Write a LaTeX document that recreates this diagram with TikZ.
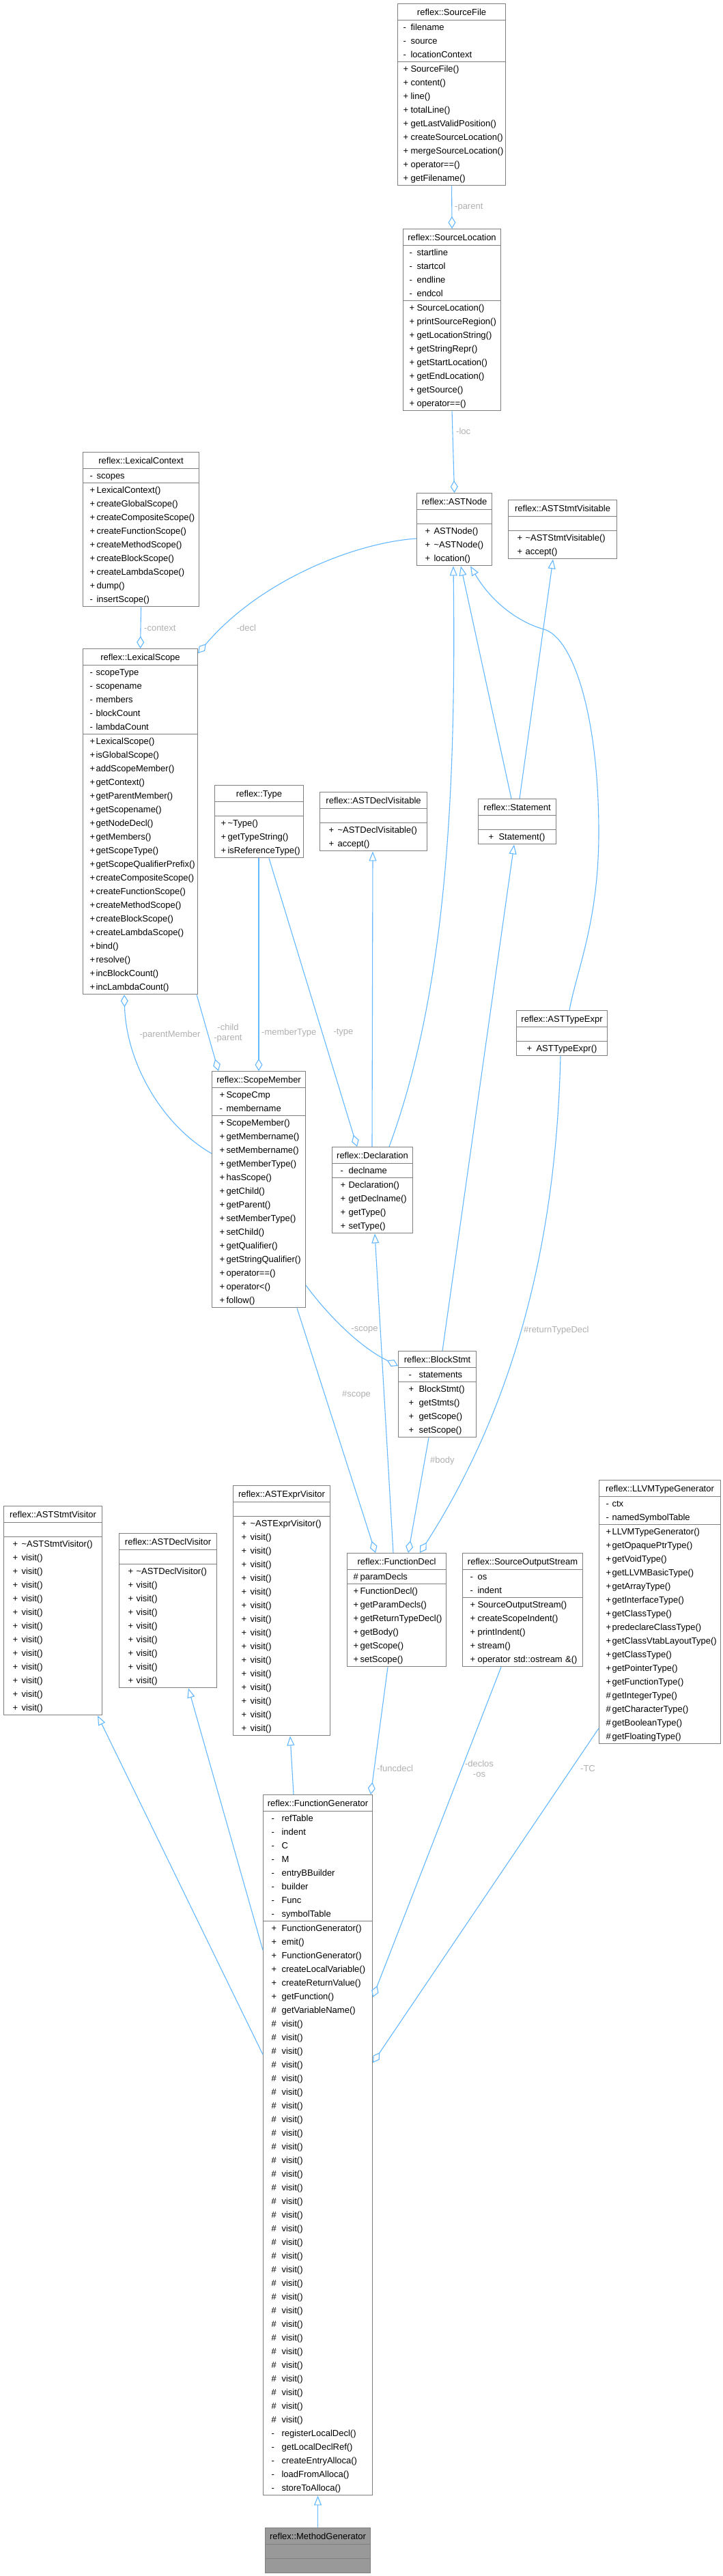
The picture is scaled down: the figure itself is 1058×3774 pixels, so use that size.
\documentclass[tikz,border=0pt]{standalone}
\usepackage{fontspec}
\setmainfont{Liberation Sans}
\usepackage{xcolor}
\usepackage{tikz}
\usetikzlibrary{shapes.multipart, arrows.meta, calc}

\definecolor{edgeblue}{HTML}{63B8FF}
\definecolor{boxgray}{HTML}{7F7F7F}
\definecolor{lblgray}{HTML}{B0B0B0}
\definecolor{leafgray}{HTML}{999999}

\newcommand{\clsfont}{\fontsize{13}{20}\selectfont}
\newcommand{\lblfont}{\fontsize{13}{15}\selectfont}
\newcommand{\ttl}[1]{\centering\rule[-7pt]{0pt}{23pt}#1\par}
\newcommand{\mbr}[2]{\hspace*{\clsa pt}\makebox[\dimexpr\clsb pt-\clsa pt\relax][l]{#1}#2\rule[-6pt]{0pt}{20pt}\par}
\newcommand{\nomb}{\rule[-6pt]{0pt}{20pt}\par}
\newcommand{\visits}[2]{\foreach \vi in {1,...,#2}{\mbr{#1}{visit()}}}

\tikzset{cols/.code 2 args={\def\clsa{#1}\def\clsb{#2}}}

\begin{document}
\begin{tikzpicture}[
    x=1pt, y=-1pt,
    classbox/.style={rectangle split, rectangle split parts=3, draw=boxgray, line width=1.1pt, fill=white, anchor=north west, inner xsep=0pt, inner ysep=0pt, font=\clsfont},
    leafbox/.style={classbox, fill=leafgray},
    link/.style={draw=edgeblue, line width=1.1pt},
    inherit/.style={link, {Triangle[open, length=14pt, width=11pt]}-},
    member/.style={link, -{Diamond[open, length=18pt, width=11pt]}},
    lbl/.style={font=\lblfont, text=lblgray, inner sep=0pt, align=center}
]
\path[use as bounding box, fill=white] (0,0) rectangle (1058,3774);

% Source files
\node[classbox, cols={8}{19}, text width=158pt] (srcfile) at (582,5) {\ttl{reflex::SourceFile}
  \nodepart{two}\mbr{-}{filename}\mbr{-}{source}\mbr{-}{locationContext}
  \nodepart{three}\mbr{+}{SourceFile()}\mbr{+}{content()}\mbr{+}{line()}\mbr{+}{totalLine()}\mbr{+}{getLastValidPosition()}\mbr{+}{createSourceLocation()}\mbr{+}{mergeSourceLocation()}\mbr{+}{operator==()}\mbr{+}{getFilename()}};
\node[classbox, cols={9}{20}, text width=143pt] (srcloc) at (590,335) {\ttl{reflex::SourceLocation}
  \nodepart{two}\mbr{-}{startline}\mbr{-}{startcol}\mbr{-}{endline}\mbr{-}{endcol}
  \nodepart{three}\mbr{+}{SourceLocation()}\mbr{+}{printSourceRegion()}\mbr{+}{getLocationString()}\mbr{+}{getStringRepr()}\mbr{+}{getStartLocation()}\mbr{+}{getEndLocation()}\mbr{+}{getSource()}\mbr{+}{operator==()}};

% AST bases
\node[classbox, cols={12}{25}, text width=110pt] (astnode) at (610,722) {\ttl{reflex::ASTNode}
  \nodepart{two}\nomb
  \nodepart{three}\mbr{+}{ASTNode()}\mbr{+}{\textasciitilde ASTNode()}\mbr{+}{location()}};
\node[classbox, cols={13}{25}, text width=159pt] (stmtvisitable) at (744,732) {\ttl{reflex::ASTStmtVisitable}
  \nodepart{two}\nomb
  \nodepart{three}\mbr{+}{\textasciitilde ASTStmtVisitable()}\mbr{+}{accept()}};

% Scopes
\node[classbox, cols={10}{20}, text width=170pt] (lexctx) at (121,662) {\ttl{reflex::LexicalContext}
  \nodepart{two}\mbr{-}{scopes}
  \nodepart{three}\mbr{+}{LexicalContext()}\mbr{+}{createGlobalScope()}\mbr{+}{createCompositeScope()}\mbr{+}{createFunctionScope()}\mbr{+}{createMethodScope()}\mbr{+}{createBlockScope()}\mbr{+}{createLambdaScope()}\mbr{+}{dump()}\mbr{-}{insertScope()}};
\node[classbox, cols={10}{19}, text width=168pt] (lexscope) at (121,950) {\ttl{reflex::LexicalScope}
  \nodepart{two}\mbr{-}{scopeType}\mbr{-}{scopename}\mbr{-}{members}\mbr{-}{blockCount}\mbr{-}{lambdaCount}
  \nodepart{three}\mbr{+}{LexicalScope()}\mbr{+}{isGlobalScope()}\mbr{+}{addScopeMember()}\mbr{+}{getContext()}\mbr{+}{getParentMember()}\mbr{+}{getScopename()}\mbr{+}{getNodeDecl()}\mbr{+}{getMembers()}\mbr{+}{getScopeType()}\mbr{+}{getScopeQualifierPrefix()}\mbr{+}{createCompositeScope()}\mbr{+}{createFunctionScope()}\mbr{+}{createMethodScope()}\mbr{+}{createBlockScope()}\mbr{+}{createLambdaScope()}\mbr{+}{bind()}\mbr{+}{resolve()}\mbr{+}{incBlockCount()}\mbr{+}{incLambdaCount()}};

% Types and declarations
\node[classbox, cols={9}{19}, text width=130pt] (type) at (314,1150) {\ttl{reflex::Type}
  \nodepart{two}\nomb
  \nodepart{three}\mbr{+}{\textasciitilde Type()}\mbr{+}{getTypeString()}\mbr{+}{isReferenceType()}};
\node[classbox, cols={13}{26}, text width=157pt] (declvisitable) at (468,1160) {\ttl{reflex::ASTDeclVisitable}
  \nodepart{two}\nomb
  \nodepart{three}\mbr{+}{\textasciitilde ASTDeclVisitable()}\mbr{+}{accept()}};
\node[classbox, cols={15}{30}, text width=114pt] (statement) at (700,1170) {\ttl{reflex::Statement}
  \nodepart{two}\nomb
  \nodepart{three}\mbr{+}{Statement()}};
\node[classbox, cols={15}{29}, text width=133pt] (typeexpr) at (756,1480) {\ttl{reflex::ASTTypeExpr}
  \nodepart{two}\nomb
  \nodepart{three}\mbr{+}{ASTTypeExpr()}};
\node[classbox, cols={11}{21}, text width=137pt] (scopemember) at (310,1569) {\ttl{reflex::ScopeMember}
  \nodepart{two}\mbr{+}{ScopeCmp}\mbr{-}{membername}
  \nodepart{three}\mbr{+}{ScopeMember()}\mbr{+}{getMembername()}\mbr{+}{setMembername()}\mbr{+}{getMemberType()}\mbr{+}{hasScope()}\mbr{+}{getChild()}\mbr{+}{getParent()}\mbr{+}{setMemberType()}\mbr{+}{setChild()}\mbr{+}{getQualifier()}\mbr{+}{getStringQualifier()}\mbr{+}{operator==()}\mbr{+}{operator<()}\mbr{+}{follow()}};
\node[classbox, cols={12}{24}, text width=118pt] (declaration) at (486,1680) {\ttl{reflex::Declaration}
  \nodepart{two}\mbr{-}{declname}
  \nodepart{three}\mbr{+}{Declaration()}\mbr{+}{getDeclname()}\mbr{+}{getType()}\mbr{+}{setType()}};
\node[classbox, cols={15}{30}, text width=114pt] (blockstmt) at (583,1979) {\ttl{reflex::BlockStmt}
  \nodepart{two}\mbr{-}{statements}
  \nodepart{three}\mbr{+}{BlockStmt()}\mbr{+}{getStmts()}\mbr{+}{getScope()}\mbr{+}{setScope()}};

% Visitors
\node[classbox, cols={13}{26}, text width=144pt] (stmtvisitor) at (5,2206) {\ttl{reflex::ASTStmtVisitor}
  \nodepart{two}\nomb
  \nodepart{three}\mbr{+}{\textasciitilde ASTStmtVisitor()}\visits{+}{12}};
\node[classbox, cols={13}{25}, text width=143pt] (declvisitor) at (174,2246) {\ttl{reflex::ASTDeclVisitor}
  \nodepart{two}\nomb
  \nodepart{three}\mbr{+}{\textasciitilde ASTDeclVisitor()}\visits{+}{8}};
\node[classbox, cols={12}{25}, text width=142pt] (exprvisitor) at (341,2176) {\ttl{reflex::ASTExprVisitor}
  \nodepart{two}\nomb
  \nodepart{three}\mbr{+}{\textasciitilde ASTExprVisitor()}\visits{+}{15}};

% Generator helpers
\node[classbox, cols={9}{19}, text width=145pt] (funcdecl) at (508,2275) {\ttl{reflex::FunctionDecl}
  \nodepart{two}\mbr{\#}{paramDecls}
  \nodepart{three}\mbr{+}{FunctionDecl()}\mbr{+}{getParamDecls()}\mbr{+}{getReturnTypeDecl()}\mbr{+}{getBody()}\mbr{+}{getScope()}\mbr{+}{setScope()}};
\node[classbox, cols={11}{22}, text width=176pt] (outstream) at (677,2275) {\ttl{reflex::SourceOutputStream}
  \nodepart{two}\mbr{-}{os}\mbr{-}{indent}
  \nodepart{three}\mbr{+}{SourceOutputStream()}\mbr{+}{createScopeIndent()}\mbr{+}{printIndent()}\mbr{+}{stream()}\mbr{+}{operator std::ostream \&()}};
\node[classbox, cols={10}{19}, text width=178pt] (llvmtype) at (877,2168) {\ttl{reflex::LLVMTypeGenerator}
  \nodepart{two}\mbr{-}{ctx}\mbr{-}{namedSymbolTable}
  \nodepart{three}\mbr{+}{LLVMTypeGenerator()}\mbr{+}{getOpaquePtrType()}\mbr{+}{getVoidType()}\mbr{+}{getLLVMBasicType()}\mbr{+}{getArrayType()}\mbr{+}{getInterfaceType()}\mbr{+}{getClassType()}\mbr{+}{predeclareClassType()}\mbr{+}{getClassVtabLayoutType()}\mbr{+}{getClassType()}\mbr{+}{getPointerType()}\mbr{+}{getFunctionType()}\mbr{\#}{getIntegerType()}\mbr{\#}{getCharacterType()}\mbr{\#}{getBooleanType()}\mbr{\#}{getFloatingType()}};

% Generators
\node[classbox, cols={12}{27}, text width=160pt] (funcgen) at (385,2629) {\ttl{reflex::FunctionGenerator}
  \nodepart{two}\mbr{-}{refTable}\mbr{-}{indent}\mbr{-}{C}\mbr{-}{M}\mbr{-}{entryBBuilder}\mbr{-}{builder}\mbr{-}{Func}\mbr{-}{symbolTable}
  \nodepart{three}\mbr{+}{FunctionGenerator()}\mbr{+}{emit()}\mbr{+}{FunctionGenerator()}\mbr{+}{createLocalVariable()}\mbr{+}{createReturnValue()}\mbr{+}{getFunction()}\mbr{\#}{getVariableName()}\visits{\#}{30}\mbr{-}{registerLocalDecl()}\mbr{-}{getLocalDeclRef()}\mbr{-}{createEntryAlloca()}\mbr{-}{loadFromAlloca()}\mbr{-}{storeToAlloca()}};
\node[leafbox, cols={0}{0}, text width=154pt] (methodgen) at (388,3703) {\ttl{reflex::MethodGenerator}
  \nodepart{two}\nomb
  \nodepart{three}\nomb};

% Bends
\coordinate (teA) at (797,922);
\coordinate (teB) at (877,1220);

% Connections
\draw[member] (srcfile.south) -- (srcloc.north);
\draw[member] (srcloc.south) -- (astnode.north);
\draw[member] (lexctx.south) -- (lexscope.north);
\draw[member] ($(astnode.north west)+(0,67)$) .. controls +(-90,6) and +(91,-107) .. ($(lexscope.north east)+(0,7)$);
\draw[member] ($(lexscope.south east)+(-2,0)$) -- ($(scopemember.north west)+(10,0)$);
\draw[member] ($(scopemember.north west)+(0,121)$) .. controls +(-70,-40) and +(3,103) .. ($(lexscope.south west)+(61,0)$);
\draw[member] ($(type.south west)+(65,0)$) -- ($(scopemember.north west)+(69,0)$);
\draw[member] ($(type.south west)+(80,0)$) -- ($(declaration.north west)+(37,0)$);
\draw[inherit] ($(declvisitable.south west)+(78,0)$) -- ($(declaration.north west)+(59,0)$);
\draw[inherit] ($(astnode.south west)+(54,0)$) .. controls +(4,323) and +(85,-230) .. ($(declaration.north west)+(84,0)$);
\draw[inherit] ($(astnode.south west)+(65,0)$) -- ($(statement.north west)+(49,0)$);
\draw[inherit] ($(stmtvisitable.south west)+(66,0)$) -- ($(statement.north west)+(61,0)$);
\draw[inherit] ($(astnode.south west)+(79,0)$) .. controls +(31,53) and +(-37,-10) .. (teA)
  .. controls +(43,13) and +(0,-170) .. (teB) .. controls +(0,130) and +(11,-60) .. ($(typeexpr.north west)+(78,0)$);
\draw[inherit] ($(statement.south west)+(53,0)$) -- ($(blockstmt.north west)+(65,0)$);
\draw[inherit] ($(declaration.south west)+(63,0)$) -- ($(funcdecl.north west)+(68,0)$);
\draw[member] ($(scopemember.north east)+(0,314)$) .. controls +(23,32) and +(-63,-31) .. ($(blockstmt.north west)+(0,22)$);
\draw[member] ($(scopemember.south west)+(125,0)$) -- ($(funcdecl.north west)+(42,0)$);
\draw[member] ($(blockstmt.south west)+(45,0)$) -- ($(funcdecl.north west)+(90,0)$);
\draw[member] ($(typeexpr.south west)+(65,0)$) .. controls +(-6,257) and +(145,-226) .. ($(funcdecl.north west)+(107,0)$);
\draw[member] ($(funcdecl.south west)+(60,0)$) -- ($(funcgen.north east)+(-3,0)$);
\draw[member] ($(outstream.south west)+(57,0)$) -- ($(funcgen.north east)+(0,297)$);
\draw[member] ($(llvmtype.north west)+(0,364)$) -- ($(funcgen.north east)+(0,393)$);
\draw[inherit] ($(stmtvisitor.south west)+(138,0)$) -- ($(funcgen.north west)+(0,381)$);
\draw[inherit] ($(declvisitor.south west)+(102,0)$) -- ($(funcgen.north west)+(0,228)$);
\draw[inherit] ($(exprvisitor.south west)+(84,0)$) -- ($(funcgen.north west)+(45,0)$);
\draw[inherit] (funcgen.south) -- (methodgen.north);

% Labels
\node[lbl, anchor=west] (lparent) at (666,304) {-parent};
\node[lbl, anchor=west] (lloc) at (668,632) {-loc};
\node[lbl, anchor=west] (lcontext) at (211,920) {-context};
\node[lbl] (ldecl) at (361,920) {-decl};
\node[lbl] (lchild) at (334,1514) {-child\\-parent};
\node[lbl] (lparentmember) at (249,1516) {-parentMember};
\node[lbl, anchor=west] (lmembertype) at (383,1513) {-memberType};
\node[lbl] (ltype) at (503,1513) {-type};
\node[lbl] (lscope) at (534,1948) {-scope};
\node[lbl] (lhscope) at (522,2043) {\#scope};
\node[lbl, anchor=west] (lbody) at (630,2140) {\#body};
\node[lbl, anchor=west] (lreturn) at (767,1949) {\#returnTypeDecl};
\node[lbl, anchor=west] (lfuncdecl) at (552,2591) {-funcdecl};
\node[lbl] (los) at (702,2591) {-declos\\-os};
\node[lbl, anchor=west] (ltc) at (850,2591) {-TC};

\end{tikzpicture}
\end{document}
